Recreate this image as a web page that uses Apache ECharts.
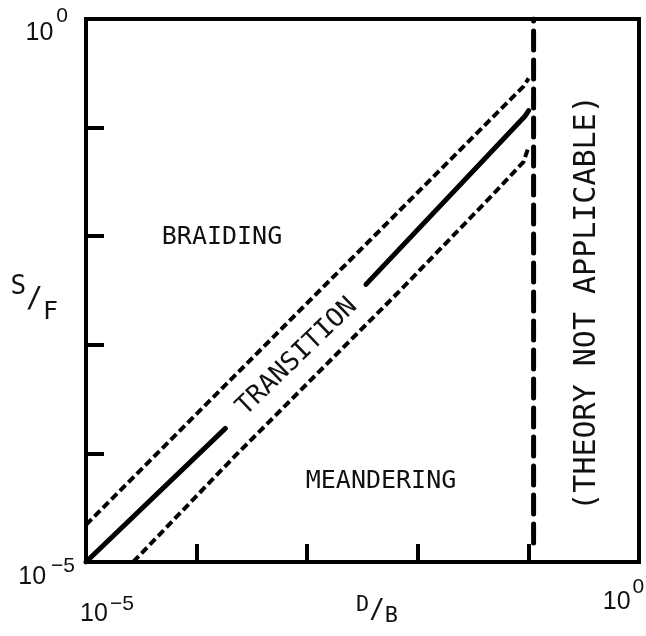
<!DOCTYPE html>
<html><head><meta charset="utf-8">
<script src="https://cdn.jsdelivr.net/npm/echarts@6/dist/echarts.min.js"></script>
<style>html,body{margin:0;padding:0;background:#fff}#c{width:646px;height:636px}</style>
</head><body><div id="c"></div>
<script>
// ---- data ----
const axisMin = 1e-5;
const axisMax = 1;
const tickBase = '10';
const xTickExp = ['−5', '0'];   // labels at min and max of D/B axis
const yTickExp = ['−5', '0'];   // labels at min and max of S/F axis
const xName = ['D', '/', 'B'];
const yName = ['S', '/', 'F'];

// S/F vs D/B boundary curves
const solidLower = [[1e-5, 1e-5], [1.82e-4, 1.70e-4]];
const solidUpper = [[3.40e-3, 3.60e-3], [9.25e-2, 0.1265], [0.1005, 0.1436]];
const dashedUpper = [[1e-5, 2.20e-5], [1.08e-4, 2.50e-4], [2.33e-3, 5.74e-3], [3.76e-2, 9.79e-2], [9.04e-2, 0.240], [0.1005, 0.284]];
const dashedLower = [[2.67e-5, 1e-5], [2.16e-4, 9.18e-5], [6.64e-3, 3.03e-3], [4.63e-2, 2.34e-2], [9.04e-2, 4.84e-2], [0.1005, 6.67e-2]];
const limitLine = [[0.1114, 1.5e-5], [0.1114, 1]];

const regionLabels = ['BRAIDING', 'MEANDERING', 'TRANSITION', '(THEORY NOT APPLICABLE)'];

// ---- chart ----
const NUM = '"Liberation Sans", Arial, sans-serif';
const MONO = '"DejaVu Sans Mono", "Liberation Mono", monospace';
const INK = '#111';

function tok(size, pad, fam, extra) {
  return Object.assign({fontSize: size, fontFamily: fam || NUM, color: INK, padding: pad, verticalAlign: 'middle'}, extra || {});
}

const chart = echarts.init(document.getElementById('c'), null, {renderer: 'canvas'});
const option = {
  animation: false,
  backgroundColor: '#fff',
  grid: {left: 86, right: 7, top: 19, bottom: 74, show: true, borderColor: '#000', borderWidth: 4, outerBoundsMode: 'none', containLabel: false},
  xAxis: {
    type: 'log', logBase: 10, min: axisMin, max: axisMax,
    axisLine: {show: true, lineStyle: {color: '#000', width: 4}},
    axisTick: {show: true, inside: true, length: 18, lineStyle: {color: '#000', width: 4}},
    splitLine: {show: false}, minorTick: {show: false},
    axisLabel: {
      margin: 8, hideOverlap: false,
      formatter: function (v) {
        const e = Math.round(Math.log10(v));
        if (e === -5) return '{sp1| }{b1|' + tickBase + '}{s1|' + xTickExp[0] + '}';
        if (e === 0) return '{b2|' + tickBase + '}{s2|' + xTickExp[1] + '}{sp2| }';
        return '';
      },
      rich: {
        sp1: {width: 42, fontSize: 10},
        b1: tok(25, [31.5, 0, 3.5, 0]),
        s1: tok(21, [23.5, 0, 15.5, 2]),
        b2: tok(25, [19.5, 0, 15.5, 0]),
        s2: tok(21, [6.5, 0, 32.5, 2]),
        sp2: {width: 31, fontSize: 10}
      }
    },
    name: '{sp| }{d|' + xName[0] + '}{sl|' + xName[1] + '}{b|' + xName[2] + '}',
    nameLocation: 'middle', nameGap: 20, nameMoveOverlap: false,
    nameTextStyle: {
      rich: {
        sp: {width: 29, fontSize: 10},
        d: tok(22, [12, 0, 16, 0], MONO),
        sl: tok(26, [16, 0, 8, 0], MONO),
        b: tok(22, [23, 0, 5, 0], MONO)
      }
    }
  },
  yAxis: {
    type: 'log', logBase: 10, min: axisMin, max: axisMax,
    axisLine: {show: true, lineStyle: {color: '#000', width: 4}},
    axisTick: {show: true, inside: true, length: 18, lineStyle: {color: '#000', width: 4}},
    splitLine: {show: false}, minorTick: {show: false},
    axisLabel: {
      margin: 11, hideOverlap: false,
      formatter: function (v) {
        const e = Math.round(Math.log10(v));
        if (e === -5) return '{b1|' + tickBase + '}{s1|' + yTickExp[0] + '}';
        if (e === 0) return '{b2|' + tickBase + '}{s2|' + yTickExp[1] + '}';
        return '';
      },
      rich: {
        b1: tok(25, [32.5, 0, 2.5, 0]),
        s1: tok(21, [23.5, 0, 15.5, 5]),
        b2: tok(25, [31.5, 0, 3.5, 0]),
        s2: tok(21, [16.5, 7, 22.5, 3])
      }
    },
    name: '{s|' + yName[0] + '}{sl|' + yName[1] + '}{f|' + yName[2] + '}',
    nameLocation: 'middle', nameGap: 28, nameRotate: 0, nameMoveOverlap: false,
    nameTextStyle: {
      align: 'right',
      rich: {
        s: tok(26, [23.5, 0, 30.5, 0], MONO),
        sl: tok(28, [35.5, 0, 16.5, 0], MONO),
        f: tok(25, [49, 0, 6, 0], MONO)
      }
    }
  },
  series: [
    {name: 'transition', type: 'line', data: solidLower, showSymbol: false, lineStyle: {color: '#000', width: 5, cap: 'round'}},
    {name: 'transition (upper)', type: 'line', data: solidUpper, showSymbol: false, lineStyle: {color: '#000', width: 5, cap: 'round'}},
    {name: 'upper bound', type: 'line', data: dashedUpper, showSymbol: false, lineStyle: {color: '#000', width: 4, type: [8, 4]}},
    {name: 'lower bound', type: 'line', data: dashedLower, showSymbol: false, lineStyle: {color: '#000', width: 4, type: [8, 4]}},
    {name: 'limit', type: 'line', data: limitLine, showSymbol: false, lineStyle: {color: '#000', width: 5, type: [19, 10], cap: 'round'}}
  ],
  graphic: [
    {type: 'text', x: 222, y: 237, style: {text: regionLabels[0], fontSize: 25, fontFamily: MONO, fill: INK, align: 'center', verticalAlign: 'middle'}},
    {type: 'text', x: 381, y: 481, style: {text: regionLabels[1], fontSize: 25, fontFamily: MONO, fill: INK, align: 'center', verticalAlign: 'middle'}},
    {type: 'text', x: 297, y: 357, rotation: 0.768, style: {text: regionLabels[2], fontSize: 26, fontFamily: MONO, fill: INK, align: 'center', verticalAlign: 'middle'}},
    {type: 'text', x: 587, y: 303, rotation: Math.PI / 2, style: {text: regionLabels[3], fontSize: 30, fontFamily: MONO, fill: INK, align: 'center', verticalAlign: 'middle'}}
  ]
};
chart.setOption(option);
</script>
</body></html>
